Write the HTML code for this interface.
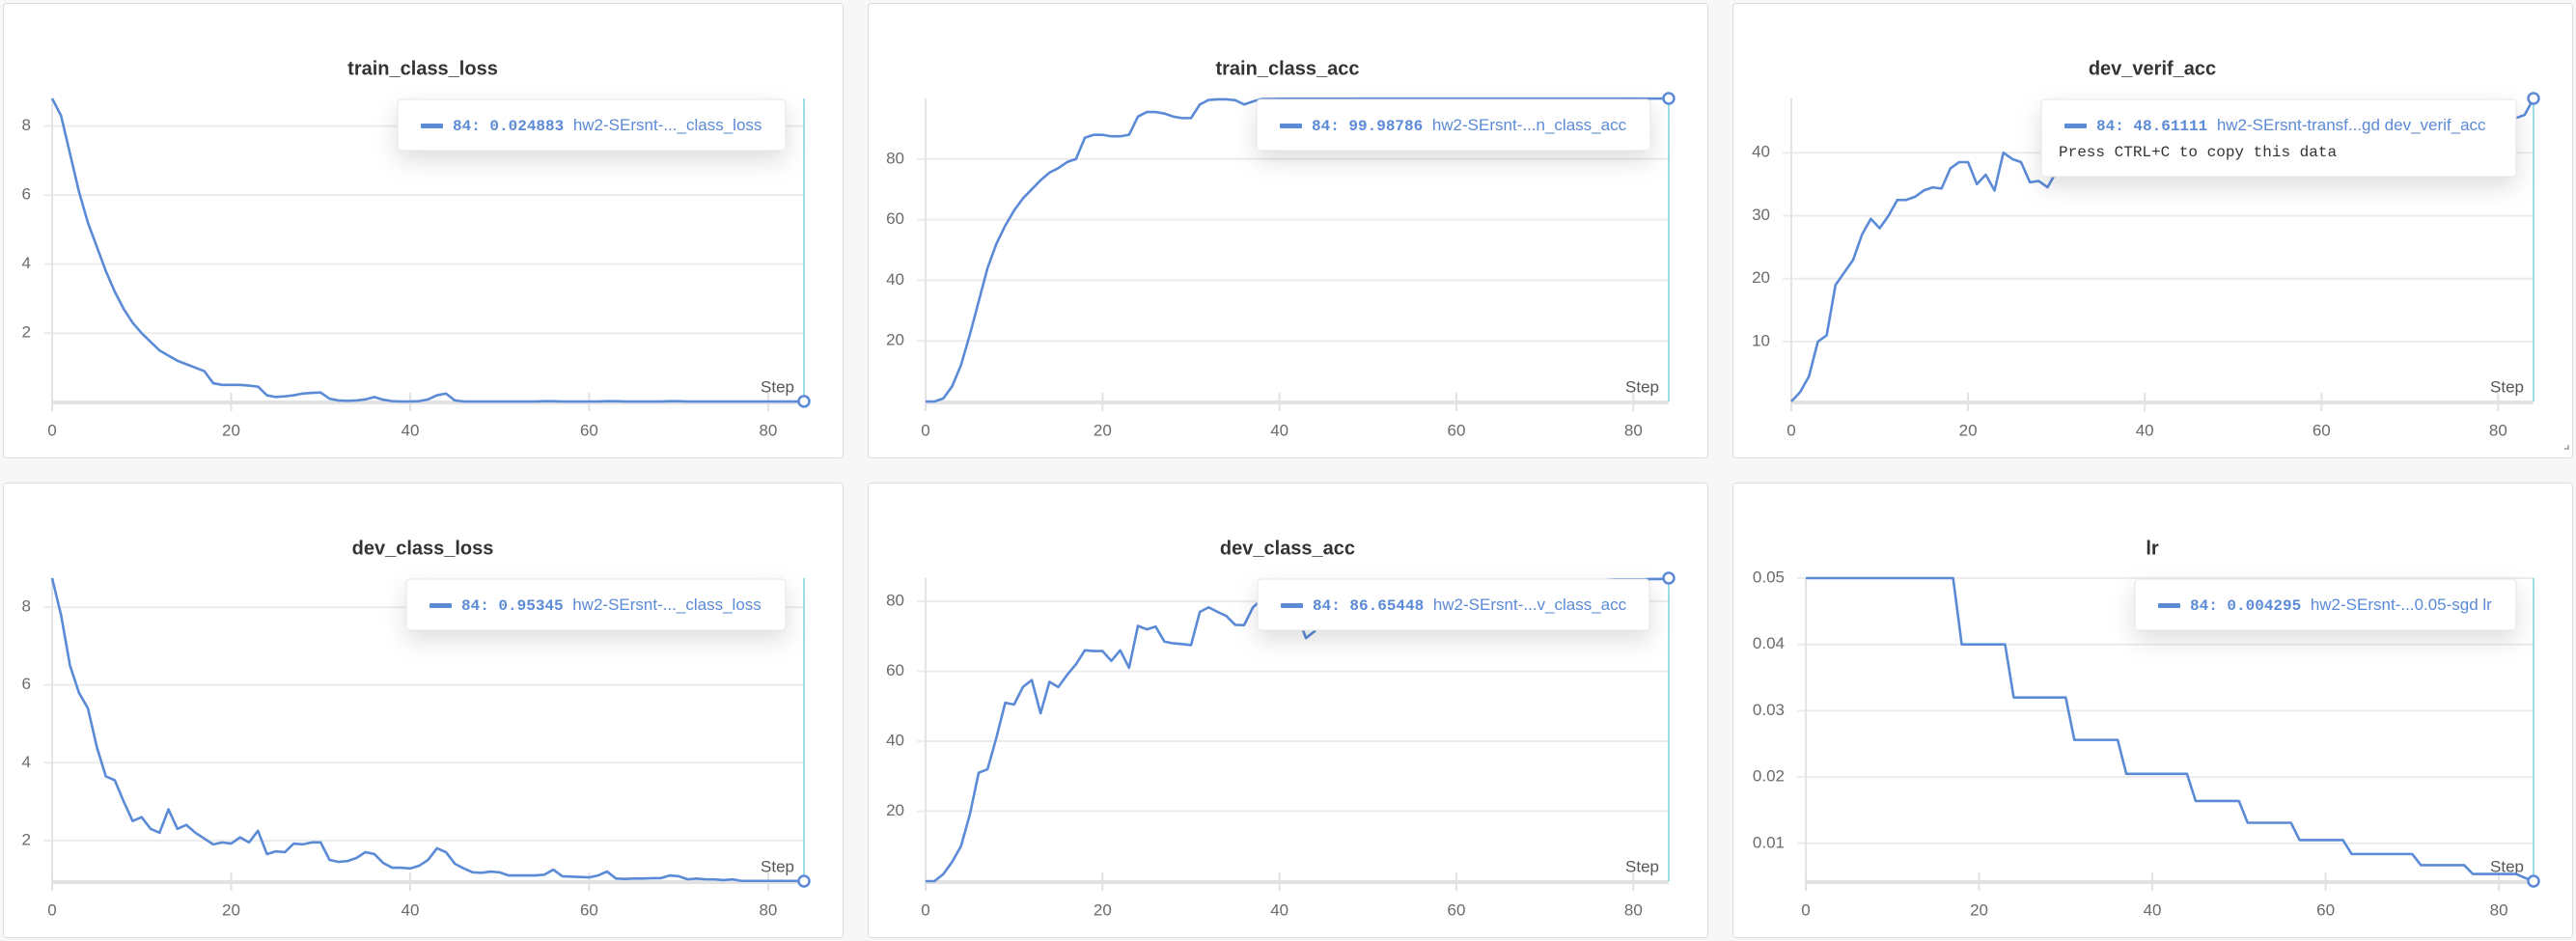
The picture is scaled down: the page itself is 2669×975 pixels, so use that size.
<!DOCTYPE html>
<html><head><meta charset="utf-8"><style>
html,body{margin:0;padding:0;background:#f7f7f7;}
svg{display:block;font-family:"Liberation Sans",sans-serif;}
</style></head><body>
<svg id="root" width="2669" height="975" viewBox="0 0 2669 975" xmlns="http://www.w3.org/2000/svg">
<defs>
<filter id="shadow" x="-20%" y="-30%" width="140%" height="200%">
<feDropShadow dx="0" dy="10" stdDeviation="12" flood-color="#000" flood-opacity="0.13"/>
</filter>
</defs>
</svg>
<script>
const steps = Array.from({length:85},(_,i)=>i);
const xTicks = [0,20,40,60,80];

const trainLoss = [8.8,8.3,7.2,6.1,5.2,4.5,3.8,3.2,2.7,2.3,2.0,1.75,1.5,1.35,1.2,1.1,1.0,0.9,0.55,0.5,0.5,0.5,0.48,0.45,0.2,0.15,0.17,0.2,0.25,0.27,0.28,0.1,0.05,0.04,0.05,0.08,0.15,0.07,0.03,0.02,0.02,0.03,0.08,0.2,0.25,0.05,0.02,0.02,0.02,0.02,0.02,0.02,0.02,0.02,0.02,0.03,0.03,0.02,0.02,0.02,0.02,0.02,0.03,0.03,0.02,0.02,0.02,0.02,0.02,0.03,0.03,0.02,0.02,0.02,0.02,0.02,0.02,0.02,0.02,0.02,0.02,0.02,0.02,0.02,0.024883];
const trainLossTicks = [2,4,6,8];

const trainAcc = [0,0,1,5,12,22,33,44,52,58,63,67,70,73,75.5,77,79,80,87,88,88,87.5,87.5,88,94,95.5,95.5,95,94,93.5,93.5,98,99.5,99.7,99.7,99.4,98,99,99.8,99.8,99.9,99.9,99.9,99.9,99.9,99.9,99.9,99.9,99.9,99.95,99.95,99.95,99.95,99.95,99.95,99.95,99.95,99.95,99.95,99.95,99.95,99.95,99.95,99.95,99.95,99.95,99.95,99.95,99.95,99.95,99.95,99.95,99.95,99.95,99.95,99.95,99.95,99.95,99.95,99.95,99.95,99.95,99.95,99.95,99.98786];
const trainAccTicks = [20,40,60,80];

const devVerif = [0.5,2,4.5,10,11,19,21,23,27,29.5,28,30,32.5,32.5,33,34,34.5,34.3,37.5,38.5,38.5,35,36.5,34,40,39,38.5,35.3,35.5,34.5,37,39,40,41,39,40.5,42,40,41.5,42,41,43,41,40,39,42,43,44,42.5,43,44,43,44.5,45,43.5,44,45,44,45.5,44.5,45,46,44.5,45,46,45,45.5,46,45,46,45.5,46.5,45,46,46.5,45.5,46,46.5,45.5,46,46.5,46,45.5,46,48.61111];
const devVerifTicks = [10,20,30,40];

const devLoss = [8.75,7.8,6.5,5.8,5.4,4.4,3.65,3.55,3.0,2.5,2.6,2.3,2.2,2.8,2.3,2.4,2.2,2.05,1.9,1.95,1.92,2.08,1.95,2.25,1.65,1.72,1.7,1.92,1.9,1.95,1.95,1.5,1.45,1.47,1.55,1.7,1.65,1.42,1.3,1.3,1.28,1.35,1.5,1.8,1.7,1.4,1.28,1.18,1.17,1.2,1.18,1.1,1.1,1.1,1.1,1.12,1.25,1.08,1.07,1.06,1.05,1.1,1.2,1.02,1.01,1.02,1.02,1.03,1.03,1.1,1.08,1.0,1.02,1.0,1.0,0.98,1.0,0.96,0.96,0.96,0.96,0.96,0.96,0.96,0.95345];
const devLossTicks = [2,4,6,8];

const devAcc = [0,0,2,5.5,10,19,31,32,41,51,50.5,55.5,57.5,48,57,55.5,59,62,66,65.8,65.8,63,66,61,73,72,72.8,68.5,68,67.8,67.5,77,78.3,77,75.8,73.3,73.2,78.3,80.5,80,78,77,76,69.5,71.5,76,78,80,79,81,80,82,81,80,82,83,82,81,83,84,82,83,84,83,84.5,85,83.5,84,85,84.5,85,85.5,84.5,85,85.5,85,86,86.2,86.3,86.3,86.3,86.3,86.4,86.4,86.65448];
const devAccTicks = [20,40,60,80];

const lrVals = [0.05,0.05,0.05,0.05,0.05,0.05,0.05,0.05,0.05,0.05,0.05,0.05,0.05,0.05,0.05,0.05,0.05,0.05,0.04,0.04,0.04,0.04,0.04,0.04,0.032,0.032,0.032,0.032,0.032,0.032,0.032,0.0256,0.0256,0.0256,0.0256,0.0256,0.0256,0.02048,0.02048,0.02048,0.02048,0.02048,0.02048,0.02048,0.02048,0.01638,0.01638,0.01638,0.01638,0.01638,0.01638,0.0131,0.0131,0.0131,0.0131,0.0131,0.0131,0.01049,0.01049,0.01049,0.01049,0.01049,0.01049,0.00839,0.00839,0.00839,0.00839,0.00839,0.00839,0.00839,0.00839,0.00671,0.00671,0.00671,0.00671,0.00671,0.00671,0.00537,0.00537,0.00537,0.00537,0.00537,0.00537,0.0048,0.004295];
const lrTicks = [0.01,0.02,0.03,0.04,0.05];

const panels = [
 {name:'train-class-loss',title:'train_class_loss',x:3,y:3,L:51,vals:trainLoss,ticks:trainLossTicks,fmt:v=>String(v),bold:'84: 0.024883',label:'hw2-SErsnt-..._class_loss',tip:[409,100,402,53]},
 {name:'train-class-acc',title:'train_class_acc',x:899,y:3,L:60,vals:trainAcc,ticks:trainAccTicks,fmt:v=>String(v),bold:'84: 99.98786',label:'hw2-SErsnt-...n_class_acc',tip:[403,100,408,53]},
 {name:'dev-verif-acc',title:'dev_verif_acc',x:1795,y:3,L:61,vals:devVerif,ticks:devVerifTicks,fmt:v=>String(v),bold:'84: 48.61111',label:'hw2-SErsnt-transf...gd dev_verif_acc',tip:[320,100,492,80],extra:'Press CTRL+C to copy this data'},
 {name:'dev-class-loss',title:'dev_class_loss',x:3,y:500,L:51,vals:devLoss,ticks:devLossTicks,fmt:v=>String(v),bold:'84: 0.95345',label:'hw2-SErsnt-..._class_loss',tip:[418,100,393,53]},
 {name:'dev-class-acc',title:'dev_class_acc',x:899,y:500,L:60,vals:devAcc,ticks:devAccTicks,fmt:v=>String(v),bold:'84: 86.65448',label:'hw2-SErsnt-...v_class_acc',tip:[404,100,406,53]},
 {name:'lr',title:'lr',x:1795,y:500,L:76,vals:lrVals,ticks:lrTicks,fmt:v=>v.toFixed(2),bold:'84: 0.004295',label:'hw2-SErsnt-...0.05-sgd lr',tip:[417,100,395,53]}
];

const NS='http://www.w3.org/2000/svg';
const root=document.getElementById('root');
function mk(tag,attrs,parent){const e=document.createElementNS(NS,tag);for(const k in attrs)e.setAttribute(k,attrs[k]);parent.appendChild(e);return e;}

const PW=870,PH=471,TOP=99,BOT=413,RIGHT=830;
const LINE='#5b8ad6';

panels.forEach(p=>{
  const g=mk('g',{transform:`translate(${p.x},${p.y})`},root);
  
  
  mk('rect',{x:0.5,y:0.5,width:PW,height:PH,rx:3,fill:'#fff',stroke:'#dcdcdc','stroke-width':1},g);
  const t=mk('text',{x:435,y:69,'text-anchor':'middle','dominant-baseline':'middle','font-size':20,'font-weight':'bold',fill:'#333'},g);
  t.textContent=p.title;
  
  

  const vmin=Math.min(...p.vals), vmax=Math.max(...p.vals);
  const xs=s=>p.L+(RIGHT-p.L)*s/84;
  const ys=v=>BOT-(BOT-TOP)*(v-vmin)/(vmax-vmin);

  // gridlines + y ticks
  p.ticks.forEach(tv=>{
    const y=ys(tv);
    const gl=mk('line',{x1:p.L-9,x2:RIGHT,y1:y,y2:y,stroke:'#ececec','stroke-width':2},g);
    
    
    const lb=mk('text',{x:p.L-22,y:y,'text-anchor':'end','dominant-baseline':'middle','font-size':17,fill:'#6b6b6b'},g);
    lb.textContent=p.fmt(tv);
    
    
  });
  // y axis
  mk('line',{x1:p.L,x2:p.L,y1:TOP,y2:BOT+10,stroke:'#e4e4e4','stroke-width':2},g);
  // x axis
  const xa=mk('line',{x1:p.L,x2:RIGHT,y1:BOT+1,y2:BOT+1,stroke:'#e2e2e2','stroke-width':4},g);
  
  
  xTicks.forEach(tv=>{
    const x=xs(tv);
    mk('line',{x1:x,x2:x,y1:BOT-9,y2:BOT+10,stroke:'#e2e2e2','stroke-width':2},g);
    const lb=mk('text',{x:x,y:444,'text-anchor':'middle','dominant-baseline':'middle','font-size':17,fill:'#6b6b6b'},g);
    lb.textContent=String(tv);
    
    
  });
  const st=mk('text',{x:820,y:399,'text-anchor':'end','dominant-baseline':'middle','font-size':17,fill:'#555'},g);
  st.textContent='Step';
  
  

  // hover line
  const hl=mk('line',{x1:RIGHT,x2:RIGHT,y1:TOP,y2:BOT,stroke:'#7fd1dd','stroke-width':1.5},g);
  
  

  // series
  const d=p.vals.map((v,i)=>(i?'L':'M')+xs(steps[i]).toFixed(2)+' '+ys(v).toFixed(2)).join(' ');
  const path=mk('path',{d:d,fill:'none',stroke:LINE,'stroke-width':2.6,'stroke-linejoin':'round'},g);
  
  
  const last=p.vals.length-1;
  const c=mk('circle',{cx:xs(steps[last]),cy:ys(p.vals[last]),r:5.5,fill:'#fff',stroke:LINE,'stroke-width':2.5},g);
  
  

  // tooltip
  const [tx,ty,tw,th]=p.tip;
  const tg=mk('g',{},g);
  
  
  mk('rect',{x:tx,y:ty,width:tw,height:th,rx:4,fill:'#fff',stroke:'#e6e6e6','stroke-width':1,filter:'url(#shadow)'},tg);
  mk('rect',{x:tx+24,y:ty+25,width:23,height:5,rx:1,fill:LINE},tg);
  const tt=mk('text',{x:tx+57,y:ty+28,'dominant-baseline':'middle',fill:LINE},tg);
  const b=mk('tspan',{'font-family':'"Liberation Mono",monospace','font-weight':'bold','font-size':16},tt);
  b.textContent=p.bold+' ';
  const n=mk('tspan',{'font-size':17},tt);
  n.textContent=p.label;
  
  
  if(p.extra){
    const ex=mk('text',{x:tx+18,y:ty+55,'dominant-baseline':'middle','font-family':'"Liberation Mono",monospace','font-size':16,fill:'#333'},tg);
    ex.textContent=p.extra;
    
    
  }
  if(p.name==='dev-verif-acc'){
    const rz=mk('path',{d:'M862 462 L866 462 L866 458',fill:'none',stroke:'#999','stroke-width':1.5},g);
    
    
  }
});
</script>
</body></html>
